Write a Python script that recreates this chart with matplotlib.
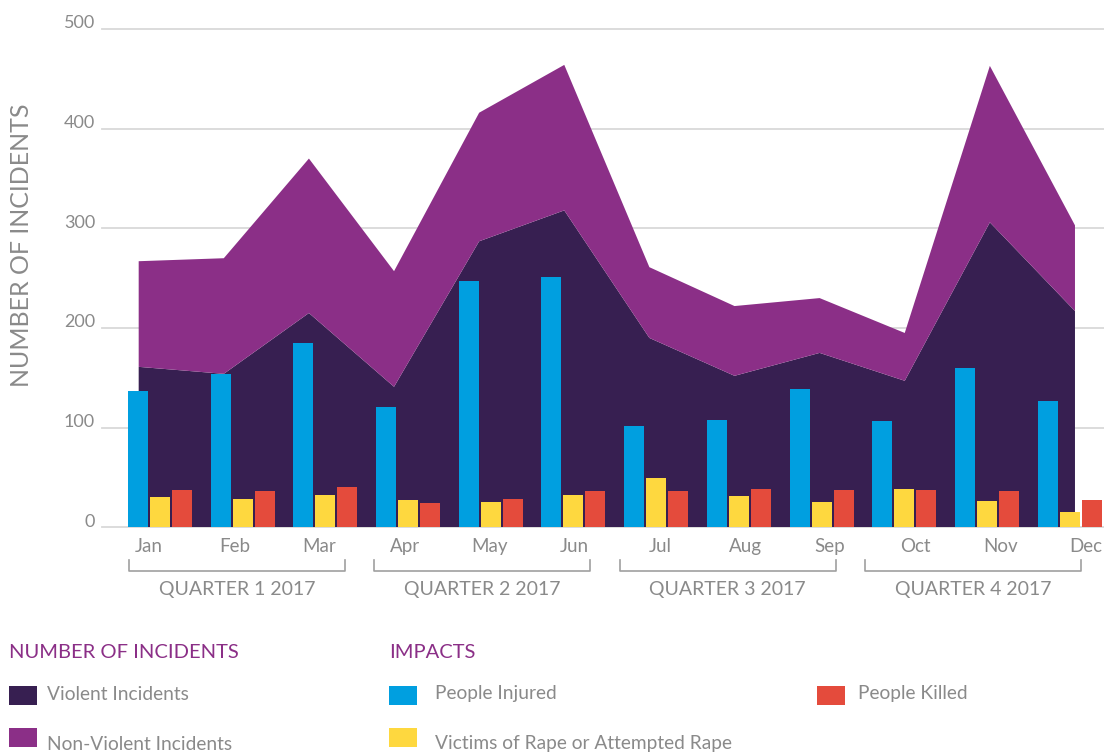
import numpy as np
import matplotlib
matplotlib.use("Agg")
import matplotlib.pyplot as plt
import matplotlib.transforms as mtransforms
from matplotlib.patches import Rectangle

plt.rcParams['font.family'] = ['Lato', 'DejaVu Sans']

# data
months = ['Jan', 'Feb', 'Mar', 'Apr', 'May', 'Jun',
          'Jul', 'Aug', 'Sep', 'Oct', 'Nov', 'Dec']
quarters = ['QUARTER 1 2017', 'QUARTER 2 2017', 'QUARTER 3 2017', 'QUARTER 4 2017']
violent = [161, 154, 215, 141, 287, 318, 190, 152, 175, 147, 306, 217]
non_violent = [106, 116, 155, 116, 129, 146, 71, 70, 55, 48, 157, 86]
injured = [137, 154, 185, 121, 247, 251, 102, 108, 139, 107, 160, 127]
rape = [30, 28, 32, 27, 25, 32, 49, 31, 25, 38, 26, 15]
killed = [37, 36, 40, 24, 28, 36, 36, 38, 37, 37, 36, 27]
yticks = [0, 100, 200, 300, 400, 500]

c_violent = '#371f51'
c_nonviolent = '#8b2f87'
c_injured = '#009fe0'
c_rape = '#fed83f'
c_killed = '#e44b3c'
c_text = '#8a8a8a'
c_title = '#8b2f87'

W, H = 1104, 756
fig = plt.figure(figsize=(W / 100, H / 100), dpi=100)

def fx(px):
    return px / W

def fy(py):
    return 1 - py / H

# main axes: gridlines + stacked area
ax = fig.add_axes([fx(102), fy(527.3), fx(1104) - fx(102), fy(29) - fy(527.3)])
x = np.arange(len(months))
ax.stackplot(x, violent, non_violent, colors=[c_violent, c_nonviolent], lw=0, zorder=2)
ax.set_xlim(-0.431, 11.341)
ax.set_ylim(0, 500)
ax.set_yticks(yticks)
ax.yaxis.grid(True, color='#d9d9d9', lw=1.3, zorder=0)
ax.set_axisbelow(True)
for gl in ax.get_ygridlines():
    gl.set_clip_on(False)
for s in ax.spines.values():
    s.set_visible(False)
ax.tick_params(axis='y', length=0, pad=5, labelsize=13, labelcolor=c_text)
ax.tick_params(axis='x', length=0, pad=8, labelsize=13.5, labelcolor=c_text)
ax.set_xticks(x)
ax.set_xticklabels(months)
up = mtransforms.ScaledTranslation(0, 0.07, fig.dpi_scale_trans)
for lab in ax.get_yticklabels():
    lab.set_transform(lab.get_transform() + up)
right = mtransforms.ScaledTranslation(0.105, 0, fig.dpi_scale_trans)
for lab in ax.get_xticklabels():
    lab.set_transform(lab.get_transform() + right)
ax.set_ylabel('NUMBER OF INCIDENTS', fontsize=18, color=c_text)
ax.yaxis.set_label_coords(-0.069, 0.566)

# twin axes for the grouped bars
ax2 = ax.twiny()
ax2.set_xlim(-0.701, 11.415)
bw = 0.242
off = 0.266
ax2.bar(x - off, injured, bw, color=c_injured, zorder=3)
ax2.bar(x, rape, bw, color=c_rape, zorder=3)
ax2.bar(x + off, killed, bw, color=c_killed, zorder=3)
ax2.set_xticks([])
for s in ax2.spines.values():
    s.set_visible(False)

# quarter brackets
tr = mtransforms.blended_transform_factory(ax2.transData, ax2.transAxes)
yb, yt = -0.0877, -0.0656
for q, name in enumerate(quarters):
    l = 2.968 * q - 0.375
    r = l + 2.61
    ax2.plot([l, l, r, r], [yt, yb, yb, yt], color='#a0a0a0', lw=1.2,
             transform=tr, clip_on=False)
    ax2.text((l + r) / 2, -0.1258, name, transform=tr, ha='center', va='center',
             fontsize=14, color=c_text)

# legend
fig.text(fx(9), fy(652), 'NUMBER OF INCIDENTS', fontsize=14.5, color=c_title,
         va='center', ha='left')
fig.text(fx(389), fy(652), 'IMPACTS', fontsize=14.5, color=c_title,
         va='center', ha='left')
entries = [
    (9, 686, c_violent, 47, 694, 'Violent Incidents'),
    (9, 728, c_nonviolent, 47, 744, 'Non-Violent Incidents'),
    (389, 686, c_injured, 435, 694, 'People Injured'),
    (389, 728, c_rape, 435, 744, 'Victims of Rape or Attempted Rape'),
    (817, 686, c_killed, 858, 694, 'People Killed'),
]
for sx, sy, col, tx, ty, label in entries:
    fig.patches.append(Rectangle((fx(sx), fy(sy + 19)), 28 / W, 19 / H,
                                 transform=fig.transFigure, color=col, lw=0))
    fig.text(fx(tx), fy(ty), label, fontsize=13.8, color=c_text, va='center',
             ha='left')

fig.savefig('out.png', dpi=100)
